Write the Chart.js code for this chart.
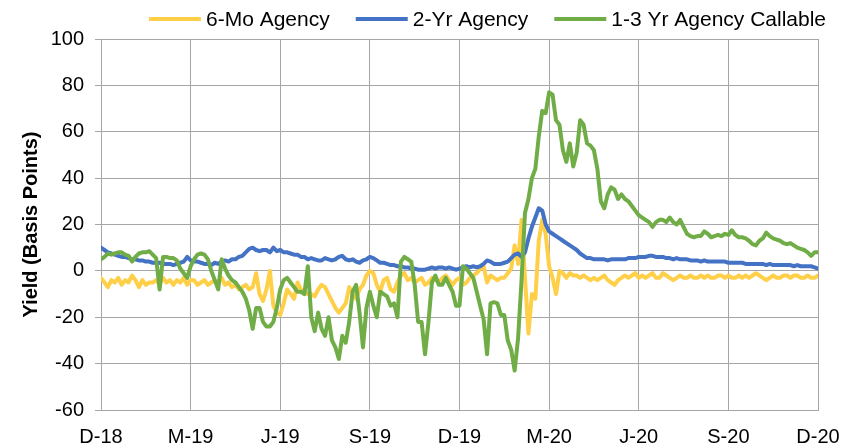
<!DOCTYPE html>
<html>
<head>
<meta charset="utf-8">
<script src="https://cdn.jsdelivr.net/npm/chart.js@4/dist/chart.umd.min.js"></script>
<style>
    body { margin: 0; background: #ffffff; }
    #boxGrafico { width: 854px; height: 446px; }
</style>
</head>
<body>
<div id="boxGrafico"><canvas id="graficoSpread"></canvas></div>
<script>
// Rótulos do eixo X (um a cada trimestre)
const rotulos = ['D-18', 'M-19', 'J-19', 'S-19', 'D-19', 'M-20', 'J-20', 'S-20', 'D-20'];

// Um ponto a cada meia semana, de D-18 até D-20 (spread em pontos-base)
const dados6Mo = [
    -3, -5, -7, -4, -5, -3, -6, -4, -5, -2,
    -4, -7, -4, -6, -5, -5, -4, -6, -3, -5,
    -4, -6, -4, -5, -3, -6, -4, -4, -6, -5,
    -4, -6, -5, -4, -5, -3, -6, -5, -7, -6,
    -8, -7, -6, -8, -7, -1, -10, -13, -8, 0,
    -15, -18, -19, -14, -8, -10, -12, -5, -8, -9,
    -10, -10, -11, -8, -6, -7, -10, -13, -16, -18,
    -16, -14, -7, -10, -12, -8, -6, -2, 0, -1,
    -6, -9, -4, -3, -8, -9, -5, -2, -1, -4,
    -3, -5, -4, -3, -6, -5, -3, -4, -5, -3,
    -2, -4, -6, -4, -3, -6, -5, -3, -2, -1,
    1, 2, -5, -2, -3, -4, -3, -3, -1, 1,
    11, 3, 22, -3, -27, -10, -12, 13, 22, 16,
    2, -3, -10, 0, -1, -3, -1, -2, -2, -3,
    -2, -3, -4, -3, -4, -3, -2, -4, -5, -6,
    -4, -3, -2, -3, -2, -1, -3, -2, -3, -2,
    -1, -3, -3, -1, -2, -3, -4, -3, -2, -3,
    -3, -2, -3, -3, -2, -3, -2, -3, -3, -2,
    -2, -3, -2, -3, -3, -2, -3, -2, -3, -2,
    -1, -2, -3, -4, -3, -2, -3, -3, -2, -2,
    -3, -2, -2, -3, -3, -2, -3, -3, -2
];

const dados2Yr = [
    10, 9, 8, 7.5, 7, 6.5, 6, 6, 5.5, 5,
    5, 4.5, 4.5, 4, 4, 3.5, 3.5, 3.5, 3, 3,
    3, 2.5, 3, 3.5, 4, 6, 4.5, 4, 4, 3.5,
    3, 3, 2.5, 3.5, 3, 4, 4.5, 4, 5, 5,
    6, 6.5, 8, 9.5, 10, 9, 8.5, 9, 9, 8,
    10, 8.5, 9, 8, 8, 7.5, 7, 7, 6, 6,
    5, 5.5, 5, 4.5, 4.5, 5.5, 5, 4.5, 5, 6,
    6.5, 5, 4.5, 5, 4, 3.5, 4.5, 5, 6, 5.5,
    4.5, 3.5, 3.5, 3, 2.5, 2.5, 2, 2, 1.5, 1.5,
    1, 1, 0.5, 0.5, 0.5, 1, 1.5, 1, 1.5, 1.5,
    1, 1.5, 1, 0.5, 1, 1.5, 2, 1.5, 2, 1.5,
    2, 3, 4.5, 4, 3, 3, 3, 3.5, 4, 5.5,
    7, 7.5, 6, 8, 14, 19, 23, 27, 26, 20,
    17, 16, 15, 14, 13, 12, 11, 10, 9, 7.5,
    6.5, 5.5, 5.5, 5, 5, 5, 5, 4.5, 5, 5,
    5, 5, 5, 5.5, 5.5, 5.5, 6, 6, 6, 6.5,
    6.5, 6, 6, 6, 5.5, 5.5, 5, 5.5, 5, 5,
    5, 4.5, 4.5, 4.5, 4, 4.5, 4, 4, 4, 4,
    4, 4, 3.5, 3.5, 3.5, 3.5, 3.5, 3, 3, 3,
    3, 3, 3, 2.5, 3, 2.5, 2.5, 2.5, 2.5, 2.5,
    2.5, 2, 2.5, 2, 2, 2, 2, 1.5, 1
];

const dadosCallable = [
    5, 6, 7.5, 7, 7.5, 8, 8, 7, 6.5, 4,
    6, 7.5, 8, 8, 8.5, 7, 5.5, -8, 6, 6,
    5.5, 5.5, 4.5, 1, -1, -3, 2, 5, 7, 7.5,
    7, 5, 0, -4, -8, 5, 1, -2, -4, -5,
    -7, -9, -12, -17, -25, -16, -16, -22, -24, -24,
    -22, -16, -8, -4, -3, -5, -7, -9, -9, -10,
    2, -20, -26, -18, -25, -28, -20, -30, -33, -38,
    -28, -31, -22, -9, -6, -18, -33, -16, -9, -15,
    -20, -9, -10, -11, -15, -14, -20, 4, 6, 5,
    4, -6, -22, -22, -36, -22, -5, -2, -6, -6,
    -3, -6, -9, -15, -15, 2, 1, -1, -3, -9,
    -15, -21, -36, -14, -13.5, -14, -19, -19, -30, -34,
    -43, -29, -4, 25, 31, 40, 44, 58, 69, 68,
    77, 76, 65, 63, 52, 47, 55, 45, 51, 65,
    63, 55, 54, 52, 44, 30, 27, 33, 36, 35,
    31, 33, 31, 30, 28, 26, 24, 23, 22, 21,
    19, 21, 22, 22, 21, 23, 21, 20, 22, 19,
    16, 15, 14.5, 15, 15, 17, 16, 14.5, 15, 15.5,
    15, 16, 15.5, 17.5, 15.5, 14.5, 14.5, 14, 13, 11.5,
    11, 13, 14, 16.5, 15, 14, 13.5, 13, 12, 11.5,
    12, 11, 10, 9.5, 9, 8, 6.5, 8, 8
];

// posição no eixo X em semanas (meia semana por ponto)
function comSemanas(valores) {
    return valores.map((v, i) => ({ x: i * 0.5, y: v }));
}

const corGrade = '#a6a6a6';
const fonteEixo = { family: '"Liberation Sans", Arial, sans-serif', size: 20, lineHeight: 1 };

// Legenda desenhada à mão: linha curta + texto, como no original
const legendaLinhas = {
    id: 'legendaLinhas',
    afterDraw(chart) {
        const ctx = chart.ctx;
        ctx.save();
        ctx.font = '21px "Liberation Sans", Arial, sans-serif';
        ctx.textBaseline = 'middle';
        ctx.fillStyle = '#000000';
        let x = 149;
        const y = 19;
        chart.data.datasets.forEach((ds) => {
            ctx.strokeStyle = ds.borderColor;
            ctx.lineWidth = 4;
            ctx.beginPath();
            ctx.moveTo(x, y);
            ctx.lineTo(x + 52, y);
            ctx.stroke();
            ctx.fillText(ds.label, x + 57, y + 1);
            x += 57 + ctx.measureText(ds.label).width + 26;
        });
        ctx.restore();
    }
};

const ctxSpread = document.getElementById('graficoSpread');

const chart = new Chart(ctxSpread, {
    type: 'line',
    data: {
        datasets: [{
            label: '6-Mo Agency',
            data: comSemanas(dados6Mo),
            borderColor: '#FFCF48',
            borderWidth: 4,
            order: 2
        }, {
            label: '2-Yr Agency',
            data: comSemanas(dados2Yr),
            borderColor: '#4472C4',
            borderWidth: 4,
            order: 1
        }, {
            label: '1-3 Yr Agency Callable',
            data: comSemanas(dadosCallable),
            borderColor: '#70AD47',
            borderWidth: 4,
            order: 0
        }]
    },
    options: {
        responsive: true,
        maintainAspectRatio: false,
        animation: false,
        layout: { padding: { top: 39, left: 0, right: 0, bottom: 0 } },
        elements: {
            point: { radius: 0 },
            line: { tension: 0, fill: false, borderJoinStyle: 'round', borderCapStyle: 'round' }
        },
        scales: {
            x: {
                type: 'linear',
                min: 0,
                max: 104,
                ticks: {
                    stepSize: 13,
                    autoSkip: false,
                    maxRotation: 0,
                    padding: 17,
                    color: '#000000',
                    font: fonteEixo,
                    callback: (v) => rotulos[Math.round(v / 13)]
                },
                grid: { color: corGrade, drawTicks: false },
                border: { color: corGrade },
                afterFit: (eixo) => {
                    eixo.paddingRight = 36;
                    eixo.height = 36;
                }
            },
            y: {
                min: -60,
                max: 100,
                ticks: {
                    stepSize: 20,
                    padding: 11,
                    color: '#000000',
                    font: fonteEixo
                },
                grid: { color: corGrade, tickLength: 6 },
                border: { color: corGrade },
                title: {
                    display: true,
                    text: 'Yield (Basis Points)',
                    color: '#000000',
                    font: { family: '"Liberation Sans", Arial, sans-serif', size: 20, weight: 'bold' },
                    padding: { top: 19, bottom: 0 }
                },
                afterFit: (eixo) => { eixo.width = 101; }
            }
        },
        plugins: {
            legend: { display: false },
            tooltip: { enabled: false }
        }
    },
    plugins: [legendaLinhas]
});
</script>
</body>
</html>
